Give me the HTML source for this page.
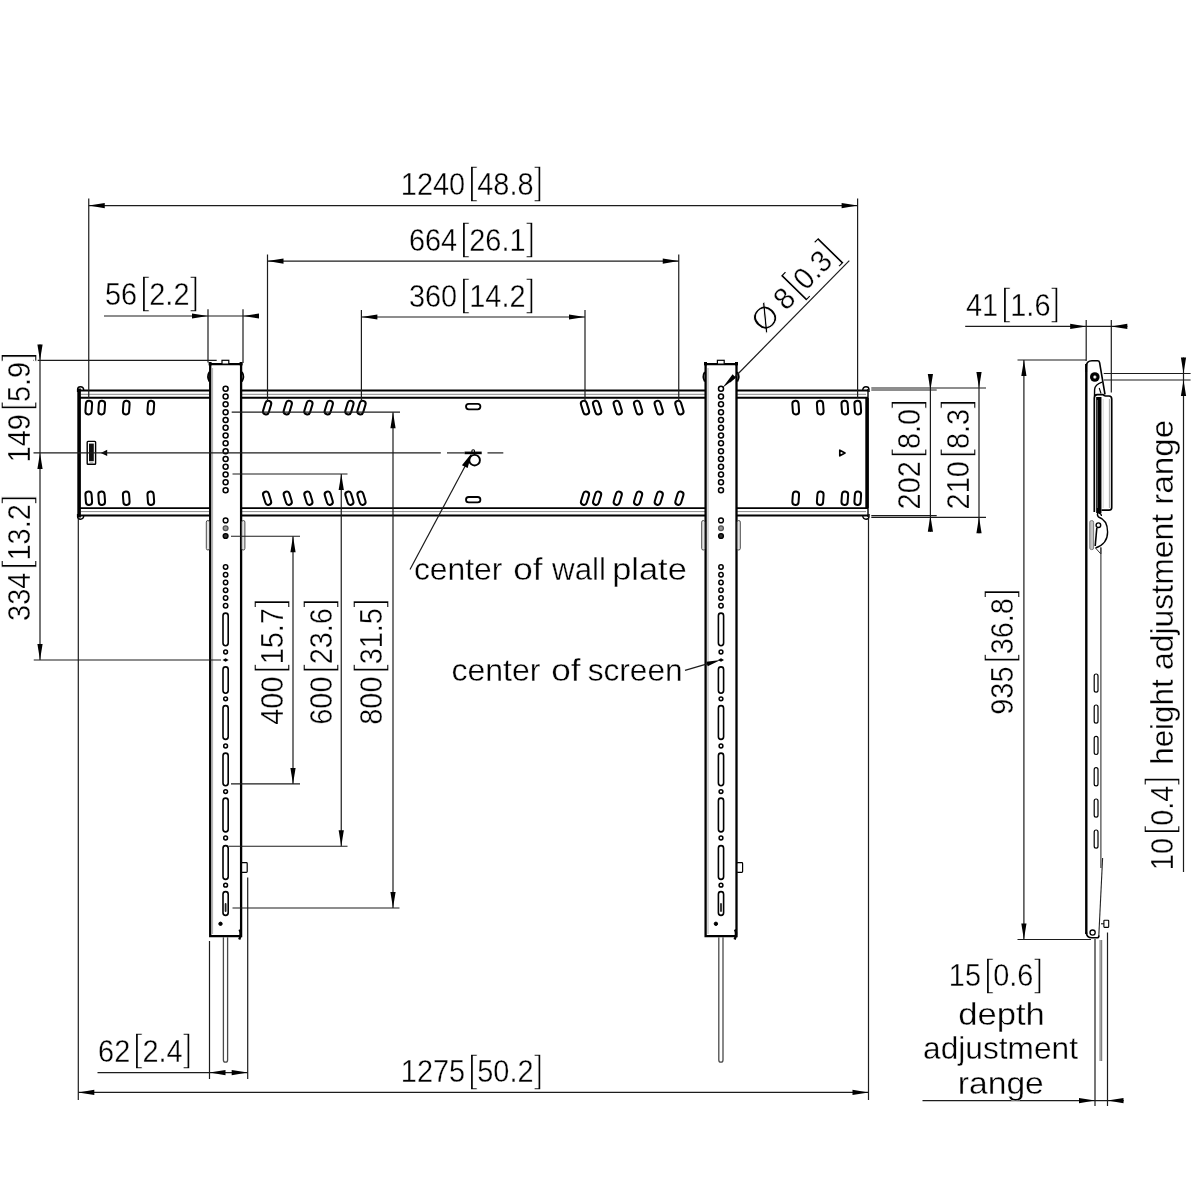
<!DOCTYPE html>
<html><head><meta charset="utf-8"><title>Wall mount dimensions</title>
<style>html,body{margin:0;padding:0;background:#fff}svg{display:block;will-change:transform;opacity:.9999}text{font-family:"Liberation Sans","DejaVu Sans",sans-serif;fill:#000}</style></head><body>
<svg width="1200" height="1200" viewBox="0 0 1200 1200">
<rect width="1200" height="1200" fill="#fff"/>
<g id="plate" fill="none" stroke="#000">
<line x1="79.00" y1="390.40" x2="868.00" y2="390.40" stroke="#000" stroke-width="2.0" />
<line x1="79.00" y1="397.80" x2="868.00" y2="397.80" stroke="#000" stroke-width="1.9" />
<line x1="79.00" y1="508.10" x2="868.00" y2="508.10" stroke="#000" stroke-width="1.9" />
<line x1="79.00" y1="515.50" x2="868.00" y2="515.50" stroke="#000" stroke-width="2.0" />
<line x1="81.00" y1="394.30" x2="866.00" y2="394.30" stroke="#8a8a8a" stroke-width="1.0" />
<line x1="81.00" y1="511.60" x2="866.00" y2="511.60" stroke="#8a8a8a" stroke-width="1.0" />
<line x1="79.10" y1="388.50" x2="79.10" y2="517.50" stroke="#000" stroke-width="3.6" />
<line x1="867.00" y1="398.00" x2="867.00" y2="508.00" stroke="#000" stroke-width="3.4" />
<line x1="868.00" y1="389.00" x2="868.00" y2="517.00" stroke="#000" stroke-width="1.4" />
<path d="M77.6,392 V389.5 Q77.6,386.8 80.5,386.8 Q83.5,386.8 83.8,390.2" stroke-width="1.4"/>
<path d="M77.6,514 V516.5 Q77.6,519.2 80.5,519.2 Q83.5,519.2 83.8,515.8" stroke-width="1.4"/>
<path d="M869,392 V389.5 Q869,386.8 866,386.8 Q863,386.8 862.7,390.2" stroke-width="1.4"/>
<path d="M869,514 V516.5 Q869,519.2 866,519.2 Q863,519.2 862.7,515.8" stroke-width="1.4"/>
<rect x="85.65" y="400.80" width="6.2" height="13.60" rx="3.1" stroke-width="2.0" transform="rotate(4 88.75 407.60)"/>
<rect x="85.65" y="491.60" width="6.2" height="13.40" rx="3.1" stroke-width="2.0" transform="rotate(-4 88.75 498.30)"/>
<rect x="854.65" y="400.80" width="6.2" height="13.60" rx="3.1" stroke-width="2.0" transform="rotate(-4 857.75 407.60)"/>
<rect x="854.65" y="491.60" width="6.2" height="13.40" rx="3.1" stroke-width="2.0" transform="rotate(4 857.75 498.30)"/>
<rect x="98.60" y="400.80" width="6.2" height="13.60" rx="3.1" stroke-width="2.0" transform="rotate(4 101.70 407.60)"/>
<rect x="98.60" y="491.60" width="6.2" height="13.40" rx="3.1" stroke-width="2.0" transform="rotate(-4 101.70 498.30)"/>
<rect x="841.70" y="400.80" width="6.2" height="13.60" rx="3.1" stroke-width="2.0" transform="rotate(-4 844.80 407.60)"/>
<rect x="841.70" y="491.60" width="6.2" height="13.40" rx="3.1" stroke-width="2.0" transform="rotate(4 844.80 498.30)"/>
<rect x="123.15" y="400.80" width="6.2" height="13.60" rx="3.1" stroke-width="2.0" transform="rotate(4 126.25 407.60)"/>
<rect x="123.15" y="491.60" width="6.2" height="13.40" rx="3.1" stroke-width="2.0" transform="rotate(-4 126.25 498.30)"/>
<rect x="817.15" y="400.80" width="6.2" height="13.60" rx="3.1" stroke-width="2.0" transform="rotate(-4 820.25 407.60)"/>
<rect x="817.15" y="491.60" width="6.2" height="13.40" rx="3.1" stroke-width="2.0" transform="rotate(4 820.25 498.30)"/>
<rect x="147.70" y="400.80" width="6.2" height="13.60" rx="3.1" stroke-width="2.0" transform="rotate(4 150.80 407.60)"/>
<rect x="147.70" y="491.60" width="6.2" height="13.40" rx="3.1" stroke-width="2.0" transform="rotate(-4 150.80 498.30)"/>
<rect x="792.60" y="400.80" width="6.2" height="13.60" rx="3.1" stroke-width="2.0" transform="rotate(-4 795.70 407.60)"/>
<rect x="792.60" y="491.60" width="6.2" height="13.40" rx="3.1" stroke-width="2.0" transform="rotate(4 795.70 498.30)"/>
<rect x="264.15" y="400.60" width="5.9" height="14.00" rx="2.95" stroke-width="2.0" transform="rotate(17 267.10 407.60)"/>
<rect x="264.15" y="491.40" width="5.9" height="13.60" rx="2.95" stroke-width="2.0" transform="rotate(-17 267.10 498.20)"/>
<rect x="676.45" y="400.60" width="5.9" height="14.00" rx="2.95" stroke-width="2.0" transform="rotate(-17 679.40 407.60)"/>
<rect x="676.45" y="491.40" width="5.9" height="13.60" rx="2.95" stroke-width="2.0" transform="rotate(17 679.40 498.20)"/>
<rect x="284.80" y="400.60" width="5.9" height="14.00" rx="2.95" stroke-width="2.0" transform="rotate(17 287.75 407.60)"/>
<rect x="284.80" y="491.40" width="5.9" height="13.60" rx="2.95" stroke-width="2.0" transform="rotate(-17 287.75 498.20)"/>
<rect x="655.80" y="400.60" width="5.9" height="14.00" rx="2.95" stroke-width="2.0" transform="rotate(-17 658.75 407.60)"/>
<rect x="655.80" y="491.40" width="5.9" height="13.60" rx="2.95" stroke-width="2.0" transform="rotate(17 658.75 498.20)"/>
<rect x="305.45" y="400.60" width="5.9" height="14.00" rx="2.95" stroke-width="2.0" transform="rotate(17 308.40 407.60)"/>
<rect x="305.45" y="491.40" width="5.9" height="13.60" rx="2.95" stroke-width="2.0" transform="rotate(-17 308.40 498.20)"/>
<rect x="635.15" y="400.60" width="5.9" height="14.00" rx="2.95" stroke-width="2.0" transform="rotate(-17 638.10 407.60)"/>
<rect x="635.15" y="491.40" width="5.9" height="13.60" rx="2.95" stroke-width="2.0" transform="rotate(17 638.10 498.20)"/>
<rect x="325.80" y="400.60" width="5.9" height="14.00" rx="2.95" stroke-width="2.0" transform="rotate(17 328.75 407.60)"/>
<rect x="325.80" y="491.40" width="5.9" height="13.60" rx="2.95" stroke-width="2.0" transform="rotate(-17 328.75 498.20)"/>
<rect x="614.80" y="400.60" width="5.9" height="14.00" rx="2.95" stroke-width="2.0" transform="rotate(-17 617.75 407.60)"/>
<rect x="614.80" y="491.40" width="5.9" height="13.60" rx="2.95" stroke-width="2.0" transform="rotate(17 617.75 498.20)"/>
<rect x="346.45" y="400.60" width="5.9" height="14.00" rx="2.95" stroke-width="2.0" transform="rotate(17 349.40 407.60)"/>
<rect x="346.45" y="491.40" width="5.9" height="13.60" rx="2.95" stroke-width="2.0" transform="rotate(-17 349.40 498.20)"/>
<rect x="594.15" y="400.60" width="5.9" height="14.00" rx="2.95" stroke-width="2.0" transform="rotate(-17 597.10 407.60)"/>
<rect x="594.15" y="491.40" width="5.9" height="13.60" rx="2.95" stroke-width="2.0" transform="rotate(17 597.10 498.20)"/>
<rect x="358.55" y="400.60" width="5.9" height="14.00" rx="2.95" stroke-width="2.0" transform="rotate(17 361.50 407.60)"/>
<rect x="358.55" y="491.40" width="5.9" height="13.60" rx="2.95" stroke-width="2.0" transform="rotate(-17 361.50 498.20)"/>
<rect x="582.05" y="400.60" width="5.9" height="14.00" rx="2.95" stroke-width="2.0" transform="rotate(-17 585.00 407.60)"/>
<rect x="582.05" y="491.40" width="5.9" height="13.60" rx="2.95" stroke-width="2.0" transform="rotate(17 585.00 498.20)"/>
<rect x="466" y="403.9" width="14.4" height="5.4" rx="2.7" stroke-width="1.8"/>
<rect x="466" y="497" width="14.4" height="5.4" rx="2.7" stroke-width="1.8"/>
<circle cx="474.6" cy="460.2" r="5.3" stroke-width="1.9"/>
<circle cx="473.2" cy="451.2" r="1.4" stroke-width="1.1" fill="#fff"/>
<rect x="87.2" y="441.4" width="8.4" height="22.8" rx="0.8" stroke-width="1.4" fill="#fff"/>
<rect x="89" y="443.6" width="4.8" height="17.6" fill="#111" stroke="none"/>
<rect x="89.6" y="461.6" width="3.6" height="1.4" fill="#bbb" stroke="none"/>
<polygon points="100.8,452.9 107.2,449.8 107.2,456" fill="#000" stroke="none"/>
<polygon points="845,453 839.8,450.2 839.8,455.8" stroke-width="1.7" stroke-linejoin="round"/>
</g>
<g transform="translate(0,0)" fill="none" stroke="#000">
<rect x="210.2" y="364" width="30.9" height="572.2" fill="#fff" stroke="none"/>
<path d="M210.2,936.2 V364.2 H241.1 V936.2 Z" stroke-width="2.3"/>
<line x1="212.6" y1="368" x2="212.6" y2="934" stroke="#777" stroke-width="0.6"/>
<rect x="222" y="360.3" width="6.8" height="3.8" stroke-width="1.2" fill="#fff"/>
<rect x="208.6" y="362" width="3" height="3.4" fill="#000" stroke="none"/>
<rect x="239.6" y="362" width="3" height="3.4" fill="#000" stroke="none"/>
<path d="M209.4,372 Q206.6,376.5 209.4,381.5" stroke-width="1.8"/>
<path d="M241.9,372 Q244.8,376.5 241.9,381.5" stroke-width="1.8"/>
<rect x="206.3" y="520.5" width="3.2" height="29.5" rx="1.6" fill="#e4e4e4" stroke="#3a3a3a" stroke-width="0.9"/>
<rect x="241.7" y="520.5" width="3.2" height="29.5" rx="1.6" fill="#e4e4e4" stroke="#3a3a3a" stroke-width="0.9"/>
<circle cx="225.6" cy="388.75" r="2.5" stroke-width="1.5"/>
<circle cx="225.6" cy="396.55" r="2.5" stroke-width="1.5"/>
<circle cx="225.6" cy="404.35" r="2.5" stroke-width="1.5"/>
<circle cx="225.6" cy="412.15" r="2.5" stroke-width="1.5"/>
<circle cx="225.6" cy="419.95" r="2.5" stroke-width="1.5"/>
<circle cx="225.6" cy="427.75" r="2.5" stroke-width="1.5"/>
<circle cx="225.6" cy="435.55" r="2.5" stroke-width="1.5"/>
<circle cx="225.6" cy="443.35" r="2.5" stroke-width="1.5"/>
<circle cx="225.6" cy="451.15" r="2.5" stroke-width="1.5"/>
<circle cx="225.6" cy="458.95" r="2.5" stroke-width="1.5"/>
<circle cx="225.6" cy="466.75" r="2.5" stroke-width="1.5"/>
<circle cx="225.6" cy="474.55" r="2.5" stroke-width="1.5"/>
<circle cx="225.6" cy="482.35" r="2.5" stroke-width="1.5"/>
<circle cx="225.6" cy="490.15" r="2.5" stroke-width="1.5"/>
<circle cx="225.6" cy="520.4" r="2.4" stroke-width="1.4"/>
<circle cx="225.6" cy="528.2" r="2.4" stroke-width="1.3" fill="#999" stroke="#555"/>
<circle cx="225.6" cy="536" r="2.4" stroke-width="1.4" fill="#333"/>
<circle cx="225.6" cy="567" r="2.2" stroke-width="1.5"/>
<circle cx="225.6" cy="574.7" r="2.2" stroke-width="1.5"/>
<circle cx="225.6" cy="582.5" r="2.2" stroke-width="1.5"/>
<circle cx="225.6" cy="590.2" r="2.2" stroke-width="1.5"/>
<circle cx="225.6" cy="598" r="2.2" stroke-width="1.5"/>
<circle cx="225.6" cy="605.8" r="2.2" stroke-width="1.5"/>
<rect x="223.0" y="613.1" width="5.2" height="32.6" rx="2.6" stroke-width="1.6"/>
<rect x="223.0" y="666.9" width="5.2" height="26.3" rx="2.6" stroke-width="1.6"/>
<rect x="223.0" y="705.6" width="5.2" height="33.8" rx="2.6" stroke-width="1.6"/>
<rect x="223.0" y="753.1" width="5.2" height="32.6" rx="2.6" stroke-width="1.6"/>
<rect x="223.0" y="798.1" width="5.2" height="33.8" rx="2.6" stroke-width="1.6"/>
<rect x="223.0" y="845.6" width="5.2" height="33.8" rx="2.6" stroke-width="1.6"/>
<rect x="223.0" y="891.6" width="5.2" height="23.8" rx="2.6" stroke-width="1.6"/>
<circle cx="225.6" cy="652" r="1.9" stroke-width="1.5"/>
<circle cx="225.6" cy="698.8" r="1.9" stroke-width="1.5"/>
<circle cx="225.6" cy="746" r="1.9" stroke-width="1.5"/>
<circle cx="225.6" cy="791.6" r="1.9" stroke-width="1.5"/>
<circle cx="225.6" cy="838" r="1.9" stroke-width="1.5"/>
<circle cx="225.6" cy="885.2" r="1.9" stroke-width="1.5"/>
<polygon points="222.6,660 225.6,658.2 228.6,660 225.6,661.8" fill="#000" stroke="none"/>
<rect x="224.7" y="903" width="1.8" height="9" rx="0.9" fill="#222" stroke="none"/>
<circle cx="220.5" cy="923.8" r="1.7" fill="#000" stroke-width="1"/>
<rect x="241.6" y="862.6" width="5.6" height="9.8" rx="0.8" stroke-width="1.2" fill="#fff"/>
<path d="M239.6,929.5 Q241.8,934 239.2,939.5" stroke-width="2.4"/>
<path d="M223.4,937.2 V1060 Q223.4,1062.2 225.5,1062.2 Q227.6,1062.2 227.6,1060 V937.2" stroke="#4a4a4a" stroke-width="1.3"/>
</g>
<g transform="translate(495.4,0)" fill="none" stroke="#000">
<rect x="210.2" y="364" width="30.9" height="572.2" fill="#fff" stroke="none"/>
<path d="M210.2,936.2 V364.2 H241.1 V936.2 Z" stroke-width="2.3"/>
<line x1="212.6" y1="368" x2="212.6" y2="934" stroke="#777" stroke-width="0.6"/>
<rect x="222" y="360.3" width="6.8" height="3.8" stroke-width="1.2" fill="#fff"/>
<rect x="208.6" y="362" width="3" height="3.4" fill="#000" stroke="none"/>
<rect x="239.6" y="362" width="3" height="3.4" fill="#000" stroke="none"/>
<path d="M209.4,372 Q206.6,376.5 209.4,381.5" stroke-width="1.8"/>
<path d="M241.9,372 Q244.8,376.5 241.9,381.5" stroke-width="1.8"/>
<rect x="206.3" y="520.5" width="3.2" height="29.5" rx="1.6" fill="#e4e4e4" stroke="#3a3a3a" stroke-width="0.9"/>
<rect x="241.7" y="520.5" width="3.2" height="29.5" rx="1.6" fill="#e4e4e4" stroke="#3a3a3a" stroke-width="0.9"/>
<circle cx="225.6" cy="388.75" r="2.5" stroke-width="1.5"/>
<circle cx="225.6" cy="396.55" r="2.5" stroke-width="1.5"/>
<circle cx="225.6" cy="404.35" r="2.5" stroke-width="1.5"/>
<circle cx="225.6" cy="412.15" r="2.5" stroke-width="1.5"/>
<circle cx="225.6" cy="419.95" r="2.5" stroke-width="1.5"/>
<circle cx="225.6" cy="427.75" r="2.5" stroke-width="1.5"/>
<circle cx="225.6" cy="435.55" r="2.5" stroke-width="1.5"/>
<circle cx="225.6" cy="443.35" r="2.5" stroke-width="1.5"/>
<circle cx="225.6" cy="451.15" r="2.5" stroke-width="1.5"/>
<circle cx="225.6" cy="458.95" r="2.5" stroke-width="1.5"/>
<circle cx="225.6" cy="466.75" r="2.5" stroke-width="1.5"/>
<circle cx="225.6" cy="474.55" r="2.5" stroke-width="1.5"/>
<circle cx="225.6" cy="482.35" r="2.5" stroke-width="1.5"/>
<circle cx="225.6" cy="490.15" r="2.5" stroke-width="1.5"/>
<circle cx="225.6" cy="520.4" r="2.4" stroke-width="1.4"/>
<circle cx="225.6" cy="528.2" r="2.4" stroke-width="1.3" fill="#999" stroke="#555"/>
<circle cx="225.6" cy="536" r="2.4" stroke-width="1.4" fill="#333"/>
<circle cx="225.6" cy="567" r="2.2" stroke-width="1.5"/>
<circle cx="225.6" cy="574.7" r="2.2" stroke-width="1.5"/>
<circle cx="225.6" cy="582.5" r="2.2" stroke-width="1.5"/>
<circle cx="225.6" cy="590.2" r="2.2" stroke-width="1.5"/>
<circle cx="225.6" cy="598" r="2.2" stroke-width="1.5"/>
<circle cx="225.6" cy="605.8" r="2.2" stroke-width="1.5"/>
<rect x="223.0" y="613.1" width="5.2" height="32.6" rx="2.6" stroke-width="1.6"/>
<rect x="223.0" y="666.9" width="5.2" height="26.3" rx="2.6" stroke-width="1.6"/>
<rect x="223.0" y="705.6" width="5.2" height="33.8" rx="2.6" stroke-width="1.6"/>
<rect x="223.0" y="753.1" width="5.2" height="32.6" rx="2.6" stroke-width="1.6"/>
<rect x="223.0" y="798.1" width="5.2" height="33.8" rx="2.6" stroke-width="1.6"/>
<rect x="223.0" y="845.6" width="5.2" height="33.8" rx="2.6" stroke-width="1.6"/>
<rect x="223.0" y="891.6" width="5.2" height="23.8" rx="2.6" stroke-width="1.6"/>
<circle cx="225.6" cy="652" r="1.9" stroke-width="1.5"/>
<circle cx="225.6" cy="698.8" r="1.9" stroke-width="1.5"/>
<circle cx="225.6" cy="746" r="1.9" stroke-width="1.5"/>
<circle cx="225.6" cy="791.6" r="1.9" stroke-width="1.5"/>
<circle cx="225.6" cy="838" r="1.9" stroke-width="1.5"/>
<circle cx="225.6" cy="885.2" r="1.9" stroke-width="1.5"/>
<polygon points="222.6,660 225.6,658.2 228.6,660 225.6,661.8" fill="#000" stroke="none"/>
<rect x="224.7" y="903" width="1.8" height="9" rx="0.9" fill="#222" stroke="none"/>
<circle cx="220.5" cy="923.8" r="1.7" fill="#000" stroke-width="1"/>
<rect x="241.6" y="862.6" width="5.6" height="9.8" rx="0.8" stroke-width="1.2" fill="#fff"/>
<path d="M239.6,929.5 Q241.8,934 239.2,939.5" stroke-width="2.4"/>
<path d="M223.4,937.2 V1060 Q223.4,1062.2 225.5,1062.2 Q227.6,1062.2 227.6,1060 V937.2" stroke="#4a4a4a" stroke-width="1.3"/>
</g>
<g id="side" fill="none" stroke="#000">
<line x1="1100.90" y1="548.00" x2="1100.90" y2="868.00" stroke="#333" stroke-width="1.1" />
<line x1="1102.60" y1="858.00" x2="1098.80" y2="936.00" stroke="#222" stroke-width="1.1" />
<line x1="1100.10" y1="940.00" x2="1100.10" y2="1061.00" stroke="#555" stroke-width="0.9" />
<line x1="1101.70" y1="940.00" x2="1101.70" y2="1061.00" stroke="#555" stroke-width="0.9" />
<path d="M1094.3,512 V398 Q1094.3,394.6 1097.2,394.6 L1103,394.6 Q1104,396 1105.5,396 H1109 Q1111.7,396 1111.7,399 V507.5 Q1111.7,510.2 1109,510.2 H1101.5" stroke-width="1.7" fill="#fff"/>
<line x1="1098.80" y1="397.00" x2="1098.80" y2="513.00" stroke="#000" stroke-width="5.3" />
<line x1="1097.40" y1="400.00" x2="1097.40" y2="508.00" stroke="#ccc" stroke-width="0.45" />
<line x1="1109.40" y1="399.00" x2="1109.40" y2="508.00" stroke="#999" stroke-width="0.9" />
<line x1="1103.20" y1="399.00" x2="1103.20" y2="508.00" stroke="#bbb" stroke-width="0.6" />
<path d="M1086.3,372 V366.5 Q1086.3,360.8 1092,360.8 H1097.5 Q1099.2,360.8 1099.6,362.6 L1105,394.5" stroke-width="1.6"/>
<path d="M1102,382.2 Q1095,384.5 1094.6,389.5 L1094.5,396" stroke-width="1.4"/>
<path d="M1099.2,388 L1101,393.5" stroke-width="1.1"/>
<circle cx="1094.8" cy="377" r="4.8" fill="#000" stroke="none"/><circle cx="1094.8" cy="377" r="1.5" fill="#fff" stroke="#888" stroke-width="0.5"/>
<line x1="1086.30" y1="364.00" x2="1086.30" y2="934.00" stroke="#000" stroke-width="2.4" />
<path d="M1086.3,932 Q1086.3,937.8 1092,937.8 H1097 Q1099,937.8 1099,935.5" stroke-width="1.6"/>
<circle cx="1092.6" cy="932.6" r="2.6" stroke-width="1.3" fill="#fff"/>
<rect x="1103.9" y="920.2" width="4.8" height="7.2" rx="0.6" stroke-width="1.1" fill="#fff"/>
<line x1="1101.00" y1="923.80" x2="1103.90" y2="923.80" stroke="#000" stroke-width="1" />
<rect x="1094.2" y="674" width="3.8" height="18.2" rx="1.9" stroke-width="1.2"/>
<rect x="1094.2" y="705" width="3.8" height="18.2" rx="1.9" stroke-width="1.2"/>
<rect x="1094.2" y="736.3" width="3.8" height="18.2" rx="1.9" stroke-width="1.2"/>
<rect x="1094.2" y="767.6" width="3.8" height="18.2" rx="1.9" stroke-width="1.2"/>
<rect x="1094.2" y="799" width="3.8" height="18.2" rx="1.9" stroke-width="1.2"/>
<rect x="1094.2" y="830" width="3.8" height="18.2" rx="1.9" stroke-width="1.2"/>
<path d="M1098,512.5 Q1096.6,515 1098.5,517 Q1107.6,520 1107.6,532 Q1107.6,544 1095.5,548" stroke-width="1.4"/>
<path d="M1098.5,512.8 Q1101.5,513.5 1101.5,516" stroke-width="1.2"/>
<circle cx="1098.4" cy="525.2" r="2.3" stroke-width="1.4"/>
<path d="M1096.8,528 L1095.2,546" stroke-width="1.6"/>
<path d="M1095.5,548 L1100.9,554 V547" stroke-width="1.0" stroke="#333"/>
<rect x="1089.8" y="520.6" width="3.8" height="29" rx="1.6" fill="#c4c4c4" stroke="#7a7a7a" stroke-width="1"/>
</g>
<g id="dims" fill="none">
<line x1="88.75" y1="198.50" x2="88.75" y2="398.00" stroke="#1c1c1c" stroke-width="1.2" />
<line x1="857.60" y1="198.50" x2="857.60" y2="398.00" stroke="#1c1c1c" stroke-width="1.2" />
<line x1="88.75" y1="205.60" x2="857.60" y2="205.60" stroke="#1c1c1c" stroke-width="1.2" />
<polygon points="88.75,205.60 104.75,203.00 104.75,208.20" fill="#000"/>
<polygon points="857.60,205.60 841.60,208.20 841.60,203.00" fill="#000"/>
<line x1="267.50" y1="254.50" x2="267.50" y2="401.00" stroke="#1c1c1c" stroke-width="1.2" />
<line x1="678.75" y1="254.50" x2="678.75" y2="401.00" stroke="#1c1c1c" stroke-width="1.2" />
<line x1="267.50" y1="261.10" x2="678.75" y2="261.10" stroke="#1c1c1c" stroke-width="1.2" />
<polygon points="267.50,261.10 283.50,258.50 283.50,263.70" fill="#000"/>
<polygon points="678.75,261.10 662.75,263.70 662.75,258.50" fill="#000"/>
<line x1="361.40" y1="310.00" x2="361.40" y2="401.00" stroke="#1c1c1c" stroke-width="1.2" />
<line x1="585.00" y1="310.00" x2="585.00" y2="401.00" stroke="#1c1c1c" stroke-width="1.2" />
<line x1="361.40" y1="317.00" x2="585.00" y2="317.00" stroke="#1c1c1c" stroke-width="1.2" />
<polygon points="361.40,317.00 377.40,314.40 377.40,319.60" fill="#000"/>
<polygon points="585.00,317.00 569.00,319.60 569.00,314.40" fill="#000"/>
<line x1="208.00" y1="309.30" x2="208.00" y2="362.50" stroke="#1c1c1c" stroke-width="1.2" />
<line x1="243.00" y1="309.30" x2="243.00" y2="363.00" stroke="#1c1c1c" stroke-width="1.2" />
<line x1="104.00" y1="316.00" x2="259.00" y2="316.00" stroke="#1c1c1c" stroke-width="1.2" />
<polygon points="208.00,316.00 192.00,318.60 192.00,313.40" fill="#000"/>
<polygon points="243.00,316.00 259.00,313.40 259.00,318.60" fill="#000"/>
<line x1="40.00" y1="344.50" x2="40.00" y2="660.00" stroke="#1c1c1c" stroke-width="1.2" />
<polygon points="40.00,360.40 37.40,344.40 42.60,344.40" fill="#000"/>
<polygon points="40.00,452.90 42.60,468.90 37.40,468.90" fill="#000"/>
<polygon points="40.00,660.00 37.40,644.00 42.60,644.00" fill="#000"/>
<line x1="33.50" y1="360.40" x2="216.70" y2="360.40" stroke="#1c1c1c" stroke-width="1.2" />
<line x1="33.50" y1="452.90" x2="440.80" y2="452.90" stroke="#1c1c1c" stroke-width="1.2" />
<line x1="447.00" y1="452.90" x2="464.60" y2="452.90" stroke="#1c1c1c" stroke-width="1.2" />
<line x1="487.50" y1="452.90" x2="503.30" y2="452.90" stroke="#1c1c1c" stroke-width="1.2" />
<line x1="464.60" y1="452.90" x2="481.70" y2="452.90" stroke="#000" stroke-width="2.6" />
<line x1="33.75" y1="660.00" x2="221.00" y2="660.00" stroke="#1c1c1c" stroke-width="1.2" />
<line x1="293.00" y1="536.25" x2="293.00" y2="783.90" stroke="#1c1c1c" stroke-width="1.2" />
<polygon points="293.00,536.25 295.60,552.25 290.40,552.25" fill="#000"/>
<polygon points="293.00,783.90 290.40,767.90 295.60,767.90" fill="#000"/>
<line x1="231.00" y1="536.25" x2="300.00" y2="536.25" stroke="#1c1c1c" stroke-width="1.2" />
<line x1="231.00" y1="783.90" x2="300.00" y2="783.90" stroke="#1c1c1c" stroke-width="1.2" />
<line x1="341.25" y1="474.00" x2="341.25" y2="846.25" stroke="#1c1c1c" stroke-width="1.2" />
<polygon points="341.25,474.00 343.85,490.00 338.65,490.00" fill="#000"/>
<polygon points="341.25,846.25 338.65,830.25 343.85,830.25" fill="#000"/>
<line x1="232.50" y1="474.00" x2="347.50" y2="474.00" stroke="#1c1c1c" stroke-width="1.2" />
<line x1="228.75" y1="846.25" x2="347.50" y2="846.25" stroke="#1c1c1c" stroke-width="1.2" />
<line x1="393.00" y1="412.20" x2="393.00" y2="908.00" stroke="#1c1c1c" stroke-width="1.2" />
<polygon points="393.00,412.20 395.60,428.20 390.40,428.20" fill="#000"/>
<polygon points="393.00,908.00 390.40,892.00 395.60,892.00" fill="#000"/>
<line x1="231.70" y1="412.20" x2="400.00" y2="412.20" stroke="#1c1c1c" stroke-width="1.2" />
<line x1="232.50" y1="908.00" x2="399.50" y2="908.00" stroke="#1c1c1c" stroke-width="1.2" />
<line x1="930.40" y1="374.00" x2="930.40" y2="531.70" stroke="#1c1c1c" stroke-width="1.2" />
<polygon points="930.40,390.00 927.80,374.00 933.00,374.00" fill="#000"/>
<polygon points="930.40,515.70 933.00,531.70 927.80,531.70" fill="#000"/>
<line x1="871.30" y1="390.00" x2="936.70" y2="390.00" stroke="#1c1c1c" stroke-width="1.2" />
<line x1="871.30" y1="515.70" x2="936.70" y2="515.70" stroke="#1c1c1c" stroke-width="1.2" />
<line x1="979.00" y1="372.00" x2="979.00" y2="533.30" stroke="#1c1c1c" stroke-width="1.2" />
<polygon points="979.00,388.00 976.40,372.00 981.60,372.00" fill="#000"/>
<polygon points="979.00,517.30 981.60,533.30 976.40,533.30" fill="#000"/>
<line x1="871.30" y1="388.00" x2="986.00" y2="388.00" stroke="#1c1c1c" stroke-width="1.2" />
<line x1="871.30" y1="517.30" x2="986.00" y2="517.30" stroke="#1c1c1c" stroke-width="1.2" />
<line x1="1023.90" y1="360.00" x2="1023.90" y2="939.50" stroke="#1c1c1c" stroke-width="1.2" />
<polygon points="1023.90,360.00 1026.50,376.00 1021.30,376.00" fill="#000"/>
<polygon points="1023.90,939.50 1021.30,923.50 1026.50,923.50" fill="#000"/>
<line x1="1017.50" y1="360.00" x2="1086.00" y2="360.00" stroke="#1c1c1c" stroke-width="1.2" />
<line x1="1017.50" y1="939.50" x2="1091.00" y2="939.50" stroke="#1c1c1c" stroke-width="1.2" />
<line x1="965.20" y1="326.40" x2="1127.40" y2="326.40" stroke="#1c1c1c" stroke-width="1.2" />
<polygon points="1086.20,326.40 1070.20,329.00 1070.20,323.80" fill="#000"/>
<polygon points="1111.30,326.40 1127.30,323.80 1127.30,329.00" fill="#000"/>
<line x1="1086.20" y1="320.00" x2="1086.20" y2="361.00" stroke="#1c1c1c" stroke-width="1.2" />
<line x1="1111.30" y1="320.00" x2="1111.30" y2="392.50" stroke="#1c1c1c" stroke-width="1.2" />
<line x1="1183.50" y1="357.50" x2="1183.50" y2="872.00" stroke="#1c1c1c" stroke-width="1.2" />
<polygon points="1183.50,373.50 1180.90,357.50 1186.10,357.50" fill="#000"/>
<polygon points="1183.50,380.00 1186.10,396.00 1180.90,396.00" fill="#000"/>
<line x1="1103.75" y1="373.50" x2="1190.60" y2="373.50" stroke="#1c1c1c" stroke-width="1.2" />
<line x1="1103.75" y1="380.00" x2="1190.60" y2="380.00" stroke="#1c1c1c" stroke-width="1.2" />
<line x1="922.50" y1="1100.60" x2="1123.75" y2="1100.60" stroke="#1c1c1c" stroke-width="1.2" />
<polygon points="1095.00,1100.60 1079.00,1103.20 1079.00,1098.00" fill="#000"/>
<polygon points="1107.50,1100.60 1123.50,1098.00 1123.50,1103.20" fill="#000"/>
<line x1="1095.00" y1="939.00" x2="1095.00" y2="1106.00" stroke="#1c1c1c" stroke-width="1.2" />
<line x1="1107.50" y1="932.50" x2="1107.50" y2="1106.00" stroke="#1c1c1c" stroke-width="1.2" />
<line x1="97.50" y1="1072.60" x2="247.70" y2="1072.60" stroke="#1c1c1c" stroke-width="1.2" />
<polygon points="209.50,1072.60 225.50,1070.00 225.50,1075.20" fill="#000"/>
<polygon points="247.70,1072.60 231.70,1075.20 231.70,1070.00" fill="#000"/>
<line x1="209.50" y1="941.00" x2="209.50" y2="1079.00" stroke="#1c1c1c" stroke-width="1.2" />
<line x1="247.70" y1="877.50" x2="247.70" y2="1079.00" stroke="#1c1c1c" stroke-width="1.2" />
<line x1="78.30" y1="1092.40" x2="868.50" y2="1092.40" stroke="#1c1c1c" stroke-width="1.2" />
<polygon points="78.30,1092.40 94.30,1089.80 94.30,1095.00" fill="#000"/>
<polygon points="868.50,1092.40 852.50,1095.00 852.50,1089.80" fill="#000"/>
<line x1="78.30" y1="518.50" x2="78.30" y2="1100.00" stroke="#1c1c1c" stroke-width="1.2" />
<line x1="868.50" y1="518.00" x2="868.50" y2="1100.00" stroke="#1c1c1c" stroke-width="1.2" />
<line x1="849.30" y1="260.70" x2="730.00" y2="382.00" stroke="#1c1c1c" stroke-width="1.2" />
<polygon points="722.30,388.00 732.62,374.28 736.02,377.68" fill="#000"/>
<line x1="410.00" y1="569.50" x2="466.00" y2="464.50" stroke="#1c1c1c" stroke-width="1.2" />
<polygon points="471.70,453.30 467.64,468.09 461.96,465.15" fill="#000"/>
<line x1="685.00" y1="670.30" x2="708.00" y2="663.60" stroke="#1c1c1c" stroke-width="1.2" />
<polygon points="720.50,660.00 707.70,666.13 706.42,661.71" fill="#000"/>
</g>
<g id="labels">
<text transform="translate(400.82,194.60) scale(0.9476,1)" font-size="30.5" stroke="#fff" stroke-width="0.35">1240</text>
<text transform="translate(468.00,193.75) scale(0.3450,0.3927)" font-size="100" stroke="#fff" stroke-width="3.31">[</text>
<text transform="translate(477.30,194.60) scale(0.9476,1)" font-size="30.5" stroke="#fff" stroke-width="0.35">48.8</text>
<text transform="translate(533.84,193.75) scale(0.3450,0.3927)" font-size="100" stroke="#fff" stroke-width="3.31">]</text>
<text transform="translate(408.89,250.70) scale(0.9476,1)" font-size="30.5" stroke="#fff" stroke-width="0.35">664</text>
<text transform="translate(460.00,249.85) scale(0.3450,0.3927)" font-size="100" stroke="#fff" stroke-width="3.31">[</text>
<text transform="translate(469.30,250.70) scale(0.9476,1)" font-size="30.5" stroke="#fff" stroke-width="0.35">26.1</text>
<text transform="translate(525.84,249.85) scale(0.3450,0.3927)" font-size="100" stroke="#fff" stroke-width="3.31">]</text>
<text transform="translate(408.89,306.70) scale(0.9476,1)" font-size="30.5" stroke="#fff" stroke-width="0.35">360</text>
<text transform="translate(460.00,305.85) scale(0.3450,0.3927)" font-size="100" stroke="#fff" stroke-width="3.31">[</text>
<text transform="translate(469.30,306.70) scale(0.9476,1)" font-size="30.5" stroke="#fff" stroke-width="0.35">14.2</text>
<text transform="translate(525.84,305.85) scale(0.3450,0.3927)" font-size="100" stroke="#fff" stroke-width="3.31">]</text>
<text transform="translate(104.96,305.30) scale(0.9476,1)" font-size="30.5" stroke="#fff" stroke-width="0.35">56</text>
<text transform="translate(140.00,304.45) scale(0.3450,0.3927)" font-size="100" stroke="#fff" stroke-width="3.31">[</text>
<text transform="translate(149.30,305.30) scale(0.9476,1)" font-size="30.5" stroke="#fff" stroke-width="0.35">2.2</text>
<text transform="translate(189.77,304.45) scale(0.3450,0.3927)" font-size="100" stroke="#fff" stroke-width="3.31">]</text>
<text transform="translate(965.96,315.50) scale(0.9476,1)" font-size="30.5" stroke="#fff" stroke-width="0.35">41</text>
<text transform="translate(1001.00,314.65) scale(0.3450,0.3927)" font-size="100" stroke="#fff" stroke-width="3.31">[</text>
<text transform="translate(1010.30,315.50) scale(0.9476,1)" font-size="30.5" stroke="#fff" stroke-width="0.35">1.6</text>
<text transform="translate(1050.77,314.65) scale(0.3450,0.3927)" font-size="100" stroke="#fff" stroke-width="3.31">]</text>
<text transform="translate(98.06,1062.20) scale(0.9476,1)" font-size="30.5" stroke="#fff" stroke-width="0.35">62</text>
<text transform="translate(133.10,1061.35) scale(0.3450,0.3927)" font-size="100" stroke="#fff" stroke-width="3.31">[</text>
<text transform="translate(142.40,1062.20) scale(0.9476,1)" font-size="30.5" stroke="#fff" stroke-width="0.35">2.4</text>
<text transform="translate(182.87,1061.35) scale(0.3450,0.3927)" font-size="100" stroke="#fff" stroke-width="3.31">]</text>
<text transform="translate(400.82,1082.40) scale(0.9476,1)" font-size="30.5" stroke="#fff" stroke-width="0.35">1275</text>
<text transform="translate(468.00,1081.55) scale(0.3450,0.3927)" font-size="100" stroke="#fff" stroke-width="3.31">[</text>
<text transform="translate(477.30,1082.40) scale(0.9476,1)" font-size="30.5" stroke="#fff" stroke-width="0.35">50.2</text>
<text transform="translate(533.84,1081.55) scale(0.3450,0.3927)" font-size="100" stroke="#fff" stroke-width="3.31">]</text>
<text transform="translate(948.86,986.40) scale(0.9476,1)" font-size="30.5" stroke="#fff" stroke-width="0.35">15</text>
<text transform="translate(983.90,985.55) scale(0.3450,0.3927)" font-size="100" stroke="#fff" stroke-width="3.31">[</text>
<text transform="translate(993.20,986.40) scale(0.9476,1)" font-size="30.5" stroke="#fff" stroke-width="0.35">0.6</text>
<text transform="translate(1033.67,985.55) scale(0.3450,0.3927)" font-size="100" stroke="#fff" stroke-width="3.31">]</text>
<g transform="translate(29.50,0) rotate(-90)">
<text transform="translate(-462.41,0.00) scale(0.9476,1)" font-size="30.5" stroke="#fff" stroke-width="0.35">149</text>
<text transform="translate(-411.30,-0.85) scale(0.3450,0.3927)" font-size="100" stroke="#fff" stroke-width="3.31">[</text>
<text transform="translate(-402.00,0.00) scale(0.9476,1)" font-size="30.5" stroke="#fff" stroke-width="0.35">5.9</text>
<text transform="translate(-361.53,-0.85) scale(0.3450,0.3927)" font-size="100" stroke="#fff" stroke-width="3.31">]</text>
</g>
<g transform="translate(29.50,0) rotate(-90)">
<text transform="translate(-620.91,0.00) scale(0.9476,1)" font-size="30.5" stroke="#fff" stroke-width="0.35">334</text>
<text transform="translate(-569.80,-0.85) scale(0.3450,0.3927)" font-size="100" stroke="#fff" stroke-width="3.31">[</text>
<text transform="translate(-560.50,0.00) scale(0.9476,1)" font-size="30.5" stroke="#fff" stroke-width="0.35">13.2</text>
<text transform="translate(-503.96,-0.85) scale(0.3450,0.3927)" font-size="100" stroke="#fff" stroke-width="3.31">]</text>
</g>
<g transform="translate(283.00,0) rotate(-90)">
<text transform="translate(-724.71,0.00) scale(0.9476,1)" font-size="30.5" stroke="#fff" stroke-width="0.35">400</text>
<text transform="translate(-673.60,-0.85) scale(0.3450,0.3927)" font-size="100" stroke="#fff" stroke-width="3.31">[</text>
<text transform="translate(-664.30,0.00) scale(0.9476,1)" font-size="30.5" stroke="#fff" stroke-width="0.35">15.7</text>
<text transform="translate(-607.76,-0.85) scale(0.3450,0.3927)" font-size="100" stroke="#fff" stroke-width="3.31">]</text>
</g>
<g transform="translate(331.70,0) rotate(-90)">
<text transform="translate(-724.71,0.00) scale(0.9476,1)" font-size="30.5" stroke="#fff" stroke-width="0.35">600</text>
<text transform="translate(-673.60,-0.85) scale(0.3450,0.3927)" font-size="100" stroke="#fff" stroke-width="3.31">[</text>
<text transform="translate(-664.30,0.00) scale(0.9476,1)" font-size="30.5" stroke="#fff" stroke-width="0.35">23.6</text>
<text transform="translate(-607.76,-0.85) scale(0.3450,0.3927)" font-size="100" stroke="#fff" stroke-width="3.31">]</text>
</g>
<g transform="translate(382.30,0) rotate(-90)">
<text transform="translate(-724.71,0.00) scale(0.9476,1)" font-size="30.5" stroke="#fff" stroke-width="0.35">800</text>
<text transform="translate(-673.60,-0.85) scale(0.3450,0.3927)" font-size="100" stroke="#fff" stroke-width="3.31">[</text>
<text transform="translate(-664.30,0.00) scale(0.9476,1)" font-size="30.5" stroke="#fff" stroke-width="0.35">31.5</text>
<text transform="translate(-607.76,-0.85) scale(0.3450,0.3927)" font-size="100" stroke="#fff" stroke-width="3.31">]</text>
</g>
<g transform="translate(919.70,0) rotate(-90)">
<text transform="translate(-509.41,0.00) scale(0.9476,1)" font-size="30.5" stroke="#fff" stroke-width="0.35">202</text>
<text transform="translate(-458.30,-0.85) scale(0.3450,0.3927)" font-size="100" stroke="#fff" stroke-width="3.31">[</text>
<text transform="translate(-449.00,0.00) scale(0.9476,1)" font-size="30.5" stroke="#fff" stroke-width="0.35">8.0</text>
<text transform="translate(-408.53,-0.85) scale(0.3450,0.3927)" font-size="100" stroke="#fff" stroke-width="3.31">]</text>
</g>
<g transform="translate(968.70,0) rotate(-90)">
<text transform="translate(-509.41,0.00) scale(0.9476,1)" font-size="30.5" stroke="#fff" stroke-width="0.35">210</text>
<text transform="translate(-458.30,-0.85) scale(0.3450,0.3927)" font-size="100" stroke="#fff" stroke-width="3.31">[</text>
<text transform="translate(-449.00,0.00) scale(0.9476,1)" font-size="30.5" stroke="#fff" stroke-width="0.35">8.3</text>
<text transform="translate(-408.53,-0.85) scale(0.3450,0.3927)" font-size="100" stroke="#fff" stroke-width="3.31">]</text>
</g>
<g transform="translate(1013.30,0) rotate(-90)">
<text transform="translate(-714.71,0.00) scale(0.9476,1)" font-size="30.5" stroke="#fff" stroke-width="0.35">935</text>
<text transform="translate(-663.60,-0.85) scale(0.3450,0.3927)" font-size="100" stroke="#fff" stroke-width="3.31">[</text>
<text transform="translate(-654.30,0.00) scale(0.9476,1)" font-size="30.5" stroke="#fff" stroke-width="0.35">36.8</text>
<text transform="translate(-597.76,-0.85) scale(0.3450,0.3927)" font-size="100" stroke="#fff" stroke-width="3.31">]</text>
</g>
<g transform="translate(1172.8,0) rotate(-90)">
<text transform="translate(-870.14,0.00) scale(0.9476,1)" font-size="30.5" stroke="#fff" stroke-width="0.35">10</text>
<text transform="translate(-835.10,-0.85) scale(0.3450,0.3927)" font-size="100" stroke="#fff" stroke-width="3.31">[</text>
<text transform="translate(-825.80,0.00) scale(0.9476,1)" font-size="30.5" stroke="#fff" stroke-width="0.35">0.4</text>
<text transform="translate(-785.33,-0.85) scale(0.3450,0.3927)" font-size="100" stroke="#fff" stroke-width="3.31">]</text>
<text transform="translate(-764.79,0.00) scale(1.0294,1)" font-size="30.5" fill="#000" stroke="#fff" stroke-width="0.35">height</text>
<text transform="translate(-670.10,0.00) scale(1.0480,1)" font-size="30.5" fill="#000" stroke="#fff" stroke-width="0.35">adjustment</text>
<text transform="translate(-504.82,0.00) scale(1.0920,1)" font-size="30.5" fill="#000" stroke="#fff" stroke-width="0.35">range</text>
</g>
<g transform="translate(849.3,260.7) rotate(-45.5)">
<text transform="translate(-112.11,-9.03) scale(0.3220,0.3209)" font-size="100" stroke="#fff" stroke-width="2.80">Ø</text>
<text transform="translate(-80.67,-9.50) scale(0.9476,1)" font-size="30.5" stroke="#fff" stroke-width="0.35">8</text>
<text transform="translate(-61.70,-10.35) scale(0.3450,0.3927)" font-size="100" stroke="#fff" stroke-width="3.31">[</text>
<text transform="translate(-52.40,-9.50) scale(0.9476,1)" font-size="30.5" stroke="#fff" stroke-width="0.35">0.3</text>
<text transform="translate(-11.93,-10.35) scale(0.3450,0.3927)" font-size="100" stroke="#fff" stroke-width="3.31">]</text>
</g>
<text transform="translate(413.91,579.50) scale(1.0440,1)" font-size="30.5" fill="#000" stroke="#fff" stroke-width="0.35">center</text>
<text transform="translate(513.24,579.50) scale(1.1510,1)" font-size="30.5" fill="#000" stroke="#fff" stroke-width="0.35">of</text>
<text transform="translate(552.00,579.50) scale(1.0283,1)" font-size="30.5" fill="#000" stroke="#fff" stroke-width="0.35">wall</text>
<text transform="translate(612.21,579.50) scale(1.1275,1)" font-size="30.5" fill="#000" stroke="#fff" stroke-width="0.35">plate</text>
<text transform="translate(451.40,681.25) scale(1.0500,1)" font-size="30.5" fill="#000" stroke="#fff" stroke-width="0.35">center</text>
<text transform="translate(551.24,681.25) scale(1.1510,1)" font-size="30.5" fill="#000" stroke="#fff" stroke-width="0.35">of</text>
<text transform="translate(587.70,681.25) scale(1.0373,1)" font-size="30.5" fill="#000" stroke="#fff" stroke-width="0.35">screen</text>
<text transform="translate(958.27,1024.50) scale(1.1349,1)" font-size="30.5" fill="#000" stroke="#fff" stroke-width="0.35">depth</text>
<text transform="translate(923.12,1059.00) scale(1.0379,1)" font-size="30.5" fill="#000" stroke="#fff" stroke-width="0.35">adjustment</text>
<text transform="translate(957.76,1093.50) scale(1.1040,1)" font-size="30.5" fill="#000" stroke="#fff" stroke-width="0.35">range</text>
</g>
</svg></body></html>
